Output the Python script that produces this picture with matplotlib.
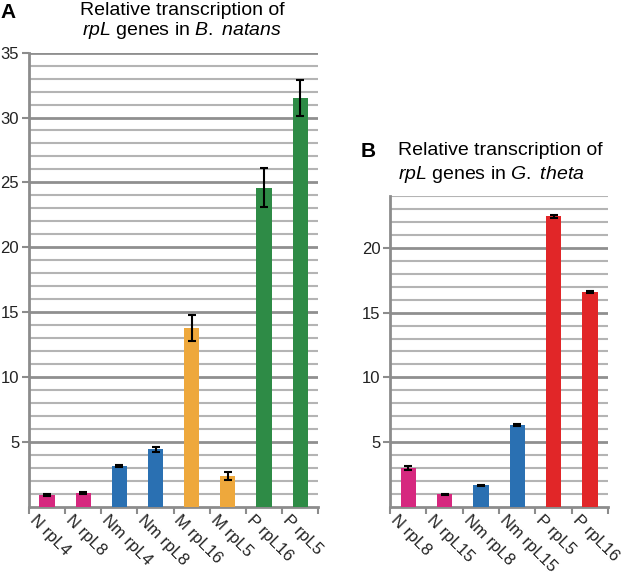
import numpy as np
import matplotlib
matplotlib.use("Agg")
import matplotlib.pyplot as plt
from matplotlib.transforms import ScaledTranslation

plt.rcParams["font.family"] = ["Liberation Sans", "DejaVu Sans"]
plt.rcParams["mathtext.fontset"] = "custom"
plt.rcParams["mathtext.rm"] = "Liberation Sans"
plt.rcParams["mathtext.it"] = "Liberation Sans:italic"

# panel A: B. natans
labels_a = ["N rpL4", "N rpL8", "Nm rpL4", "Nm rpL8", "M rpL16", "M rpL5", "P rpL16", "P rpL5"]
values_a = [0.93, 1.06, 3.16, 4.42, 13.8, 2.35, 24.6, 31.5]
errors_a = [0.08, 0.08, 0.08, 0.22, 1.0, 0.3, 1.5, 1.4]
groups_a = ["N", "N", "Nm", "Nm", "M", "M", "P", "P"]

# panel B: G. theta
labels_b = ["N rpL8", "N rpL15", "Nm rpL8", "Nm rpL15", "P rpL5", "P rpL16"]
values_b = [2.98, 0.96, 1.66, 6.35, 22.45, 16.6]
errors_b = [0.15, 0.05, 0.06, 0.08, 0.1, 0.06]
groups_b = ["N", "N", "Nm", "Nm", "Pr", "Pr"]

colors = {"N": "#d6287f", "Nm": "#2a70b2", "M": "#eea83c", "P": "#2e8b46", "Pr": "#e12628"}

fig = plt.figure(figsize=(6.29, 5.72), dpi=100)
ax_a = fig.add_axes([0.046, 0.114, 0.46, 0.794])
ax_b = fig.add_axes([0.620, 0.114, 0.347, 0.543])


def draw_panel(ax, labels, values, errors, groups, ymax, yticks):
    x = np.arange(len(labels))
    ax.bar(x, values, width=0.42, color=[colors[g] for g in groups], zorder=3)
    ax.errorbar(x, values, yerr=errors, fmt="none", ecolor="black",
                elinewidth=1.5, capsize=3, capthick=1.5, zorder=4)
    ax.set_xlim(-0.5, len(labels) - 0.5)
    ax.set_ylim(0, ymax)
    # grid lines
    for y in range(1, ymax + 1):
        major = y % 5 == 0
        ax.axhline(y, color="#8f8f8f" if major else "#b4b4b4",
                   lw=2.0 if major else 1.5, zorder=1)
    for s in ["top", "right"]:
        ax.spines[s].set_visible(False)
    for s in ["left", "bottom"]:
        ax.spines[s].set_color("#8c8c8c")
        ax.spines[s].set_linewidth(2)
    ax.set_yticks(yticks)
    ax.set_yticklabels([str(t) for t in yticks], fontsize=12, color="#222222")
    ax.tick_params(axis="y", length=5, width=1.5, color="#8c8c8c", pad=2)
    ax.set_xticks(np.arange(len(labels) + 1) - 0.5, minor=True)
    ax.tick_params(axis="x", which="minor", length=5, width=1.5, color="#8c8c8c")
    ax.set_xticks(x)
    ax.tick_params(axis="x", which="major", length=0, pad=4)
    ax.set_xticklabels(labels, rotation=-45, ha="left", va="top",
                       rotation_mode="anchor", fontsize=12, color="#222222")
    offset = ScaledTranslation(-7 / 72, 0, fig.dpi_scale_trans)
    for lab in ax.get_xticklabels():
        lab.set_transform(lab.get_transform() + offset)


draw_panel(ax_a, labels_a, values_a, errors_a, groups_a, 35, [5, 10, 15, 20, 25, 30, 35])
draw_panel(ax_b, labels_b, values_b, errors_b, groups_b, 24, [5, 10, 15, 20])

fig.text(0.0, 0.979, "A", fontsize=15, fontweight="bold", va="center")
fig.text(0.29, 0.981, "Relative transcription of", fontsize=14, ha="center", va="center")
fig.text(0.29, 0.946, "$\\mathit{rpL}$ genes in $\\mathit{B.}$ $\\mathit{natans}$",
         fontsize=14, ha="center", va="center")

fig.text(0.573, 0.736, "B", fontsize=15, fontweight="bold", va="center")
fig.text(0.633, 0.737, "Relative transcription of", fontsize=14, ha="left", va="center")
fig.text(0.633, 0.695, "$\\mathit{rpL}$ genes in $\\mathit{G.}$ $\\mathit{theta}$",
         fontsize=14, ha="left", va="center")

fig.savefig("out.png", dpi=100)
